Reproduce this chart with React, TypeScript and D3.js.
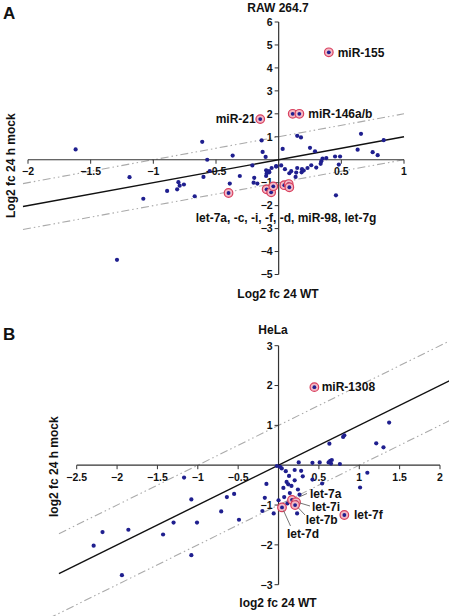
import React from "react";
import * as d3 from "d3";

// ---------- Panel A data (RAW 264.7) ----------
const pointsA: [number, number][] = [
  [-1.62, 0.45], [-0.61, 0.78], [-0.136, 0.84], [0.148, 1.04], [0.178, 0.97], [0.657, 1.13], [0.838, 0.85],
  [0.032, 0.47], [0.25, 0.52], [0.29, 0.37], [0.63, 0.44], [0.75, 0.33], [0.79, 0.2], [-0.367, 0.18],
  [-0.57, 0.0], [-0.128, 0.34], [-0.104, 0.12], [-0.02, -0.28], [-0.21, -0.25], [-0.1, -0.46], [-0.075, -0.55],
  [-0.056, -0.36], [-0.1, -0.71], [-0.195, -0.79], [-0.2, -1.0], [-0.17, -1.04], [-0.31, -0.71], [-0.39, -1.04],
  [-0.6, -0.75], [-0.55, -0.49], [-1.19, -0.76], [-0.8, -0.98], [-0.79, -1.13], [-0.756, -1.08], [-0.81, -1.29],
  [-0.89, -1.36], [-1.08, -1.7], [-0.67, -1.59], [-1.29, -4.36], [0.05, -0.41], [0.085, -0.59], [0.14, -0.56],
  [0.148, -0.36], [0.135, -0.75], [0.186, -0.41], [0.183, -0.55], [0.2, -0.47], [0.23, -0.36], [0.26, -0.24],
  [0.3, -0.34], [0.335, -0.18], [0.34, -0.07], [0.35, 0.05], [0.38, 0.07], [0.45, 0.14], [0.49, 0.14],
  [0.48, -0.21], [0.457, -1.55], [-0.096, -0.6], [-0.077, -0.5], [0.1, -0.5], [-0.02, -0.3], [0.02, -0.25],
];
const highlightA: [number, number][] = [
  [-0.4, -1.45], [-0.096, -1.29], [-0.06, -1.42], [-0.043, -1.16], [0.045, -1.11], [0.08, -1.06], [0.085, -1.2],
  [0.4, 4.68], [0.112, 2.0], [0.165, 2.0], [-0.147, 1.77],
];
const xTicksA = [-2, -1.5, -1, -0.5, 0.5, 1];
const yTicksA = [-5, -4, -3, -2, -1, 1, 2, 3, 4, 5, 6];
const labelsA = ["miR-155", "miR-146a/b", "miR-21", "let-7a, -c, -i, -f, -d, miR-98, let-7g"];

// ---------- Panel B data (HeLa) ----------
const pointsB: [number, number][] = [
  [-1.17, -0.31], [-1.08, -0.86], [-2.18, -1.68], [-1.86, -1.62], [-2.29, -2.02], [-1.3, -1.44], [-1.01, -1.44],
  [-1.43, -1.74], [-1.08, -2.26], [-1.94, -2.76], [-0.64, -0.8], [-0.55, -0.72], [-0.71, -1.16], [-0.49, -1.37],
  [-0.15, -0.47], [-0.17, -0.82], [-0.2, -1.15], [-0.06, -1.21], [0.0, -0.88], [0.02, -0.04], [0.04, -0.08],
  [-0.02, -0.02], [0.07, -0.8], [0.06, -0.57], [0.11, -0.96], [0.1, -0.42], [0.13, -0.27], [0.12, -0.48],
  [0.14, -0.7], [0.2, -0.12], [0.2, -0.38], [0.25, 0.07], [0.24, -0.61], [0.28, -0.14], [0.3, -0.28],
  [0.26, -0.74], [0.23, -1.21], [0.42, -0.36], [0.51, 0.07], [0.54, -0.46], [0.63, 0.54], [0.64, 0.11],
  [0.65, 0.04], [0.66, 0.13], [0.76, 0.03], [1.01, -0.56], [1.1, -0.19], [1.21, 0.55], [1.3, 0.45],
  [1.37, 1.07], [0.8, 0.71], [0.815, 0.75], [0.42, 0.06], [0.62, 0.07], [0.09, -0.15], [0.16, -0.52],
];
const highlightB: [number, number][] = [
  [0.444, 1.96], [0.167, -0.87], [0.217, -0.93], [0.205, -1.0], [0.043, -1.06], [0.815, -1.25],
];
const xTicksB = [-2.5, -2, -1.5, -1, -0.5, 0.5, 1, 1.5, 2];
const yTicksB = [-3, -2, -1, 1, 2, 3];
const labelsB = ["miR-1308", "let-7a", "let-7i", "let-7b", "let-7d", "let-7f"];

const FONT = "'Liberation Sans', Arial, Helvetica, sans-serif";
const DOT = "#1f1f8f";
const RING = "#d9405e";
const RINGFILL = "#f3b9c6";
const AXIS = "#333";
const DASH = "#aaaaaa";

const fmt = (v: number) => d3.format("")(v).replace("-", "\u2212");

function Panel(props: {
  x: d3.ScaleLinear<number, number>;
  y: d3.ScaleLinear<number, number>;
  xTicks: number[];
  yTicks: number[];
  points: [number, number][];
  highlights: [number, number][];
  lineX: [number, number];
  lowerX: [number, number];
}) {
  const { x, y, xTicks, yTicks, points, highlights, lineX, lowerX } = props;
  const line = d3.line<[number, number]>().x((d) => x(d[0])).y((d) => y(d[1]));
  const seg = (off: number, r: [number, number]) =>
    line([
      [r[0], r[0] + off],
      [r[1], r[1] + off],
    ]) as string;
  const [x0, x1] = x.range();
  const [y0, y1] = y.range();
  return (
    <g>
      {/* reference lines */}
      <path d={seg(1, lineX)} stroke={DASH} strokeWidth={1.1} fill="none" strokeDasharray="8,3,1.5,3,1.5,3" />
      <path d={seg(-1, lowerX)} stroke={DASH} strokeWidth={1.1} fill="none" strokeDasharray="8,3,1.5,3,1.5,3" />
      {/* axes */}
      <line x1={x0} x2={x1} y1={y(0)} y2={y(0)} stroke={AXIS} strokeWidth={1.2} />
      <line x1={x(0)} x2={x(0)} y1={y0} y2={y1} stroke={AXIS} strokeWidth={1.2} />
      {xTicks.map((t) => (
        <g key={"xt" + t}>
          <line x1={x(t)} x2={x(t)} y1={y(0)} y2={y(0) + 4} stroke={AXIS} strokeWidth={1} />
          <text x={x(t)} y={y(0) + 15.5} textAnchor="middle" fontSize={10.5} fontWeight="bold" fill="#111">
            {fmt(t)}
          </text>
        </g>
      ))}
      {yTicks.map((t) => (
        <g key={"yt" + t}>
          <line x1={x(0) - 4} x2={x(0)} y1={y(t)} y2={y(t)} stroke={AXIS} strokeWidth={1} />
          <text x={x(0) - 6} y={y(t) + 3.8} textAnchor="end" fontSize={10.5} fontWeight="bold" fill="#111">
            {fmt(t)}
          </text>
        </g>
      ))}
      <path d={seg(0, lineX)} stroke="#111" strokeWidth={1.4} fill="none" />
      {points.map((p, i) => (
        <circle key={"p" + i} cx={x(p[0])} cy={y(p[1])} r={2.1} fill={DOT} />
      ))}
      {highlights.map((p, i) => (
        <g key={"h" + i}>
          <circle cx={x(p[0])} cy={y(p[1])} r={4.3} fill={RINGFILL} stroke={RING} strokeWidth={1.2} />
          <circle cx={x(p[0])} cy={y(p[1])} r={1.9} fill={DOT} />
        </g>
      ))}
    </g>
  );
}

export default function App() {
  const xA = d3.scaleLinear().domain([-2, 1]).range([28, 404]);
  const yA = d3.scaleLinear().domain([-5, 6]).range([274.5, 22]);
  const xB = d3.scaleLinear().domain([-2.5, 2]).range([76.7, 440]);
  const yB = d3.scaleLinear().domain([-3, 3]).range([584.7, 345.7]);
  const lab = { fontSize: 12, fontWeight: "bold" as const, fill: "#111" };
  return (
    <div style={{ position: "fixed", left: 0, top: 0 }}>
      <svg width={449} height={616} style={{ display: "block", background: "#fff", fontFamily: FONT }}>
        <rect width={449} height={616} fill="#fff" />
        {/* Panel A */}
        <text x={3} y={19} fontSize={17} fontWeight="bold" fill="#111">A</text>
        <text x={278} y={12} textAnchor="middle" {...lab}>RAW 264.7</text>
        <Panel x={xA} y={yA} xTicks={xTicksA} yTicks={yTicksA} points={pointsA} highlights={highlightA}
          lineX={[-2.04, 1.0]} lowerX={[-2.04, 1.0]} />
        <text x={337.7} y={56.5} {...lab}>{labelsA[0]}</text>
        <text x={308.3} y={118} {...lab}>{labelsA[1]}</text>
        <text x={255.7} y={123} textAnchor="end" {...lab}>{labelsA[2]}</text>
        <text x={195.7} y={221.5} {...lab}>{labelsA[3]}</text>
        <text x={278} y={298} textAnchor="middle" {...lab}>Log2 fc 24 WT</text>
        <text transform="translate(15,218) rotate(-90)" textAnchor="start" {...lab}>Log2 fc 24 h mock</text>

        {/* Panel B */}
        <text x={3} y={340} fontSize={17} fontWeight="bold" fill="#111">B</text>
        <text x={273} y={334} textAnchor="middle" {...lab}>HeLa</text>
        <Panel x={xB} y={yB} xTicks={xTicksB} yTicks={yTicksB} points={pointsB} highlights={highlightB}
          lineX={[-2.72, 2.2]} lowerX={[-2.85, 2.2]} />
        <line x1={299} y1={497} x2={307} y2={493.5} stroke="#666" strokeWidth={0.9} />
        <line x1={300} y1={503} x2={310} y2={506} stroke="#666" strokeWidth={0.9} />
        <line x1={298} y1={507.5} x2={305} y2={515} stroke="#666" strokeWidth={0.9} />
        <line x1={283.5} y1={510.5} x2={290.5} y2={526} stroke="#666" strokeWidth={0.9} />
        <text x={321.7} y={391} {...lab}>{labelsB[0]}</text>
        <text x={310} y={497.5} {...lab}>{labelsB[1]}</text>
        <text x={312} y={511} {...lab}>{labelsB[2]}</text>
        <text x={305.7} y={523.5} {...lab}>{labelsB[3]}</text>
        <text x={287} y={537.5} {...lab}>{labelsB[4]}</text>
        <text x={354} y={519} {...lab}>{labelsB[5]}</text>
        <text x={278} y={606.5} textAnchor="middle" {...lab}>log2 fc 24 WT</text>
        <text transform="translate(57.5,517) rotate(-90)" textAnchor="start" {...lab}>log2 fc 24 h mock</text>
      </svg>
    </div>
  );
}
